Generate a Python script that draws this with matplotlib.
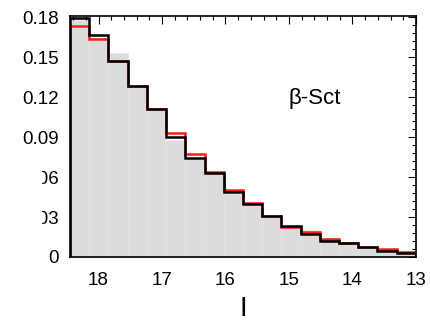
import numpy as np
import matplotlib
matplotlib.use("Agg")
import matplotlib.pyplot as plt
from matplotlib.patches import Rectangle
from matplotlib.ticker import MultipleLocator

plt.rcParams["font.family"] = ["Liberation Sans", "DejaVu Sans"]

# bin edges in I magnitude (bright side on the left of the plot)
edges = np.linspace(18.45, 13.0, 19)

# fractions per bin, listed left to right (18.45 -> 13)
gray_vals = [0.178, 0.164, 0.153, 0.128, 0.110, 0.088, 0.074, 0.063, 0.047,
             0.039, 0.031, 0.024, 0.020, 0.0145, 0.011, 0.008, 0.005, 0.003]
red_vals = [0.1735, 0.1633, 0.147, 0.1286, 0.111, 0.0928, 0.077, 0.0638, 0.0503,
            0.0403, 0.0304, 0.0227, 0.019, 0.0133, 0.0105, 0.0077, 0.0058, 0.0034]
black_vals = [0.179, 0.1665, 0.147, 0.128, 0.111, 0.0902, 0.0745, 0.0632, 0.0485,
              0.0398, 0.0308, 0.0235, 0.0173, 0.0122, 0.0103, 0.0073, 0.0047, 0.0032]

y_ticks = [0, 0.03, 0.06, 0.09, 0.12, 0.15, 0.18]
y_labels = ["0", "0.03", "0.06", "0.09", "0.12", "0.15", "0.18"]
x_ticks = [18, 17, 16, 15, 14, 13]

# ascending order for the step plots
e = edges[::-1]
g = np.array(gray_vals)[::-1]
r = np.array(red_vals)[::-1]
b = np.array(black_vals)[::-1]

fig = plt.figure(figsize=(4.31, 3.24), dpi=100)
ax = fig.add_axes([0.1624, 0.2068, 0.8026, 0.7447])

ax.bar(e[:-1], g, width=np.diff(e), align="edge", color="#dcdcdc",
       edgecolor="#e2e2e2", linewidth=0.4, zorder=1)
ax.stairs(r, e, baseline=0, color="#ff1a1a", linewidth=1.8, zorder=2)
ax.stairs(b, e, baseline=0, color="black", linewidth=1.8, zorder=3)

ax.set_xlim(18.45, 13.0)
ax.set_ylim(0, 0.181)

ax.set_xticks(x_ticks)
ax.set_xticklabels([str(t) for t in x_ticks])
ax.set_yticks(y_ticks)
ax.set_yticklabels(y_labels)
ax.xaxis.set_minor_locator(MultipleLocator(0.2))
ax.yaxis.set_minor_locator(MultipleLocator(0.006))
ax.tick_params(which="both", direction="in", top=True, right=True,
               bottom=False, left=False, labelsize=13.5, width=0.8)
ax.tick_params(which="major", length=6)
ax.tick_params(which="minor", length=3)
ax.tick_params(axis="x", which="major", pad=11)
ax.tick_params(axis="y", which="major", pad=8)
for s in ax.spines.values():
    s.set_linewidth(1.2)

ax.set_xlabel("I", fontsize=20, labelpad=5)
ax.text(14.6, 0.119, "β-Sct", fontsize=16, ha="center", va="center")

# the original has the left part of two y labels cut away
fig.patches.append(Rectangle((0, 95 / 324), 41 / 431, 70 / 324,
                             transform=fig.transFigure, color="white", zorder=10))

fig.savefig("out.png", dpi=100)
